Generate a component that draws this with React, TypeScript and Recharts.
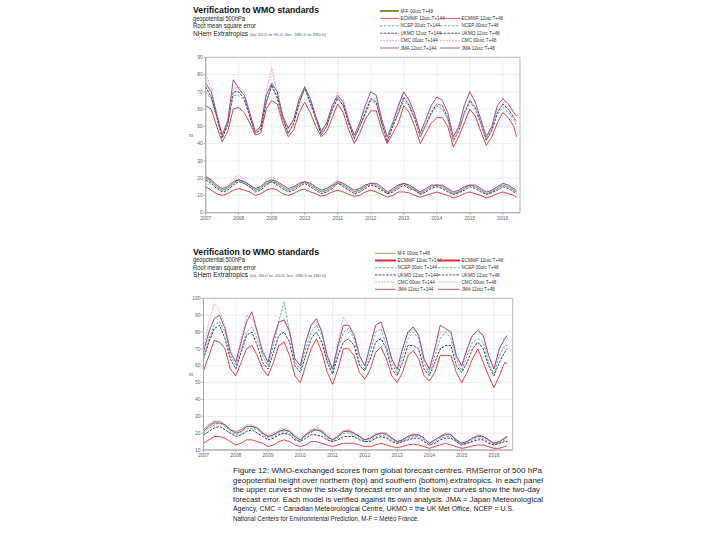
import React from "react";
import { LineChart, Line, XAxis, YAxis, CartesianGrid, ReferenceArea } from "recharts";

// monthly sample dates (every second month) shared by both panels
const dates = [
  "2007-01", "2007-03", "2007-05", "2007-07", "2007-09", "2007-11",
  "2008-01", "2008-03", "2008-05", "2008-07", "2008-09", "2008-11",
  "2009-01", "2009-03", "2009-05", "2009-07", "2009-09", "2009-11",
  "2010-01", "2010-03", "2010-05", "2010-07", "2010-09", "2010-11",
  "2011-01", "2011-03", "2011-05", "2011-07", "2011-09", "2011-11",
  "2012-01", "2012-03", "2012-05", "2012-07", "2012-09", "2012-11",
  "2013-01", "2013-03", "2013-05", "2013-07", "2013-09", "2013-11",
  "2014-01", "2014-03", "2014-05", "2014-07", "2014-09", "2014-11",
  "2015-01", "2015-03", "2015-05", "2015-07", "2015-09", "2015-11",
  "2016-01", "2016-03", "2016-05", "2016-06",
];

const yearTicks = [2007, 2008, 2009, 2010, 2011, 2012, 2013, 2014, 2015, 2016];
const nhTicks = [0, 10, 20, 30, 40, 50, 60, 70, 80, 90];
const shTicks = [10, 20, 30, 40, 50, 60, 70, 80, 90, 100];

// ---- NHem, T+144 (upper curves)
const nhEc144 = [
  62, 60, 50, 41, 47, 60, 61, 58, 52, 45, 46, 60, 65, 63, 52, 44, 48, 58,
  64, 58, 50, 44, 47, 55, 63, 58, 48, 40, 46, 54, 59, 59, 48, 40, 46, 52,
  62, 58, 50, 40, 46, 52, 55, 55, 50, 38, 44, 52, 60, 56, 47, 39, 44, 52,
  58, 55, 50, 44,
];
const nhNc144 = [
  70, 66, 55, 44, 51, 68, 68, 65, 56, 46, 49, 64, 73, 66, 54, 46, 51, 63,
  72, 63, 54, 46, 50, 60, 67, 62, 51, 43, 50, 57, 65, 63, 51, 42, 50, 57,
  65, 61, 54, 44, 50, 57, 62, 60, 54, 41, 47, 57, 64, 60, 51, 42, 47, 57,
  61, 58, 54, 50,
];
const nhUk144 = [
  73, 67, 56, 43, 51, 70, 70, 66, 56, 46, 48, 64, 74, 67, 55, 46, 52, 64,
  72, 64, 55, 45, 50, 60, 66, 62, 52, 43, 50, 58, 66, 64, 52, 41, 50, 58,
  67, 62, 55, 44, 51, 58, 63, 62, 55, 42, 48, 58, 65, 61, 52, 42, 48, 58,
  63, 60, 55, 53,
];
const nhCm144 = [
  80, 72, 58, 45, 54, 72, 73, 70, 58, 46, 50, 70, 84, 70, 56, 48, 54, 66,
  72, 66, 56, 47, 52, 62, 70, 66, 54, 44, 52, 60, 66, 66, 54, 42, 52, 60,
  70, 63, 56, 44, 52, 60, 63, 62, 56, 42, 49, 58, 66, 60, 52, 43, 49, 60,
  62, 60, 56, 52,
];
const nhJm144 = [
  75, 70, 57, 45, 53, 77, 72, 68, 58, 47, 50, 68, 75, 70, 56, 49, 54, 66,
  73, 66, 56, 47, 52, 62, 68, 64, 53, 45, 52, 62, 70, 68, 54, 44, 52, 62,
  70, 65, 57, 46, 54, 62, 67, 65, 58, 44, 50, 62, 70, 64, 54, 44, 50, 62,
  66, 63, 58, 56,
];
// ---- NHem, T+48 (lower curves)
const nhMf48 = [
  20, 18, 15, 13, 14, 17, 19, 18, 16, 13, 14, 17, 18, 17, 15, 13, 14, 16,
  18, 16, 14, 12, 13, 15, 17, 16, 14, 12, 13, 15, 17, 16, 14, 11, 13, 15,
  17, 15, 13, 11, 13, 15, 16, 15, 13, 11, 12, 14, 16, 15, 13, 11, 12, 14,
  16, 15, 13, 12,
];
const nhEc48 = [
  15, 13, 11, 10, 11, 13, 14, 13, 12, 10, 11, 13, 14, 13, 11, 10, 11, 13,
  13.5, 12, 11, 9.5, 10.5, 12, 13, 12, 10.5, 9.5, 10, 12, 13, 12, 10.5, 9, 10, 12,
  12, 11.5, 10, 9, 10, 11, 12, 11, 10, 8.5, 9.5, 11, 12, 11, 10, 8.5, 9.5, 11,
  12, 11, 10, 9,
];
const nhNc48 = [
  21, 18, 15, 13, 14, 17, 19, 17, 15, 13, 14, 17, 19, 17, 15, 13, 14, 16,
  18, 16, 14, 12, 13, 15, 18, 16, 14, 12, 13, 15, 17, 16, 14, 11.5, 13, 15,
  17, 15, 14, 11.5, 13, 15, 16, 15, 13, 11, 12.5, 14, 16, 15, 13, 11, 12.5, 14,
  16, 15, 13, 12,
];
const nhUk48 = [
  19, 17, 14, 12, 13, 16, 18, 17, 15, 12, 13, 16, 18, 16, 14, 12, 13, 15,
  17, 15, 13, 11, 12, 14, 17, 15, 13, 11, 12, 14, 16, 15, 13, 11, 12, 14,
  16, 14, 13, 10.5, 12, 14, 15, 14, 12, 10.5, 11.5, 13, 15, 14, 12, 10.5, 11.5, 13,
  15, 14, 12, 11,
];
const nhCm48 = [
  21, 19, 16, 14, 15, 20, 22, 19, 16, 14, 15, 19, 21, 18, 15, 13, 14, 17,
  18, 17, 15, 13, 14, 17, 19, 17, 15, 12, 14, 16, 17, 16, 14, 12, 13, 16,
  17, 16, 14, 12, 13, 15, 16, 15, 14, 11, 13, 15, 16, 15, 14, 11, 13, 15,
  16, 15, 14, 13,
];
const nhJm48 = [
  21, 19, 16, 14, 15, 18, 19, 18, 16, 14, 15, 18, 19, 18, 16, 14, 15, 17,
  18, 17, 15, 13, 14, 16, 18, 17, 15, 13, 14, 16, 17, 17, 15, 12, 14, 16,
  17, 16, 14, 12, 14, 16, 16, 16, 14, 12, 13, 15, 16, 16, 14, 12, 13, 15,
  17, 16, 14, 13,
];

// ---- SHem, T+144
const shEc144 = [
  57, 66, 75, 74, 70, 58, 54, 62, 70, 72, 66, 58, 54, 62, 72, 74, 66, 54,
  50, 60, 70, 76, 68, 56, 49, 58, 70, 70, 66, 56, 52, 58, 68, 71, 64, 54,
  50, 56, 66, 69, 64, 54, 51, 56, 66, 66, 66, 56, 50, 56, 64, 70, 62, 54,
  47, 54, 62, 61,
];
const shNc144 = [
  65, 76, 84, 86, 80, 66, 60, 70, 80, 83, 76, 66, 60, 72, 86, 98, 80, 62,
  58, 70, 80, 84, 78, 64, 56, 70, 80, 82, 76, 62, 58, 68, 80, 82, 72, 62,
  55, 66, 76, 80, 76, 62, 55, 66, 76, 80, 76, 64, 57, 66, 74, 76, 74, 62,
  55, 66, 72, 72,
];
const shUk144 = [
  64, 74, 82, 84, 76, 64, 58, 68, 78, 80, 72, 62, 58, 68, 78, 80, 74, 60,
  56, 66, 76, 80, 74, 62, 55, 66, 74, 76, 72, 60, 57, 64, 74, 76, 70, 58,
  54, 62, 72, 72, 70, 58, 54, 62, 70, 72, 72, 60, 56, 62, 70, 74, 70, 60,
  54, 62, 68, 70,
];
const shCm144 = [
  70, 86, 97, 92, 84, 70, 62, 76, 90, 88, 80, 70, 62, 76, 84, 88, 82, 64,
  60, 74, 84, 86, 80, 66, 58, 74, 89, 84, 80, 66, 60, 72, 84, 86, 76, 64,
  57, 70, 80, 82, 78, 64, 57, 70, 80, 80, 80, 66, 59, 70, 78, 80, 78, 66,
  59, 70, 76, 78,
];
const shJm144 = [
  68, 80, 88, 90, 82, 68, 62, 74, 86, 92, 80, 68, 62, 76, 86, 87, 80, 64,
  60, 74, 84, 88, 80, 66, 58, 72, 84, 84, 78, 66, 60, 72, 84, 86, 76, 64,
  58, 70, 80, 83, 78, 64, 58, 70, 84, 82, 80, 66, 60, 70, 78, 81, 78, 66,
  58, 70, 76, 78,
];
// ---- SHem, T+48
const shMf48 = [
  22, 25, 27, 27, 25, 22, 21, 22, 24, 24, 23, 20, 18, 19, 21, 22, 21, 18,
  16, 19, 22, 22, 21, 18, 16, 18, 21, 22, 20, 18, 16, 17, 19, 20, 19, 17,
  15, 16, 18, 19, 19, 17, 14, 16, 18, 20, 19, 16, 14, 15, 17, 19, 18, 16,
  14, 15, 17, 18,
];
const shEc48 = [
  14, 16, 18, 18, 17, 15, 13, 14, 16, 16, 15, 14, 12, 13, 15, 16, 15, 13,
  12, 13, 15, 15, 14, 13, 12, 13, 14, 14, 14, 13, 12, 12, 13, 14, 13, 12,
  11.5, 12, 13, 13.5, 13, 12, 11, 12, 13, 14, 13, 12, 11, 11.5, 12.5, 13, 13, 12,
  11, 11, 12, 12.5,
];
const shNc48 = [
  20, 23, 25, 26, 24, 21, 19, 20, 23, 23, 22, 19, 17, 18, 20, 21, 20, 17,
  15, 18, 20, 24, 20, 17, 15, 17, 20, 20, 19, 17, 15, 16, 18, 19, 18, 16,
  14, 15, 17, 18, 18, 16, 13, 15, 17, 18, 18, 15, 13, 14, 16, 17, 17, 15,
  13, 14, 16, 16,
];
const shUk48 = [
  19, 21, 23, 24, 22, 20, 18, 19, 21, 22, 20, 18, 16, 17, 19, 20, 19, 16,
  15, 17, 19, 19, 18, 16, 15, 16, 18, 18, 18, 16, 15, 15, 17, 18, 17, 15,
  14, 15, 16, 17, 17, 15, 13, 14, 16, 17, 17, 15, 13, 14, 15, 16, 16, 14,
  13, 14, 15, 15,
];
const shCm48 = [
  22, 25, 26, 27, 25, 22, 21, 22, 25, 25, 23, 21, 19, 20, 22, 23, 22, 19,
  17, 19, 22, 23, 22, 19, 17, 19, 22, 21, 20, 18, 16, 17, 20, 20, 19, 17,
  15, 16, 18, 20, 19, 17, 14, 16, 18, 19, 20, 16, 14, 15, 17, 19, 18, 16,
  14, 15, 17, 18,
];
const shJm48 = [
  21, 24, 26, 26, 25, 22, 20, 21, 24, 24, 23, 20, 18, 19, 21, 22, 21, 18,
  16, 19, 21, 22, 21, 18, 16, 18, 21, 21, 20, 18, 16, 17, 19, 20, 20, 17,
  15, 16, 18, 19, 19, 17, 14, 16, 18, 19, 19, 16, 14, 15, 17, 18, 18, 16,
  14, 15, 17, 18,
];

const captionLines = [
  "Figure 12: WMO-exchanged scores from global forecast centres. RMSerror of 500 hPa",
  "geopotential height over northern (top) and southern (bottom) extratropics. In each panel",
  "the upper curves show the six-day forecast error and the lower curves show the two-day",
  "forecast error. Each model is verified against its own analysis. JMA = Japan Meteorological",
  "Agency, CMC = Canadian Meteorological Centre, UKMO = the UK Met Office, NCEP = U.S.",
  "National Centers for Environmental Prediction, M-F = Météo France.",
];

const FONT = "'Liberation Sans', Arial, Helvetica, sans-serif";

const SERIES = [
  { key: "mf48", name: "M-F 00utc T+48", color: "#8a8a48" },
  { key: "ec144", name: "ECMWF 12utc T+144", color: "#d6303b" },
  { key: "ec48", name: "ECMWF 12utc T+48", color: "#d6303b" },
  { key: "nc144", name: "NCEP 00utc T+144", color: "#45a89b", dash: "2.5 1.5" },
  { key: "nc48", name: "NCEP 00utc T+48", color: "#45a89b", dash: "2.5 1.5" },
  { key: "uk144", name: "UKMO 12utc T+144", color: "#222a48", dash: "2.5 1.2" },
  { key: "uk48", name: "UKMO 12utc T+48", color: "#222a48", dash: "2.5 1.2" },
  { key: "cm144", name: "CMC 00utc T+144", color: "#e6a0c4", dash: "2 1" },
  { key: "cm48", name: "CMC 00utc T+48", color: "#e6a0c4", dash: "2 1" },
  { key: "jm144", name: "JMA 12utc T+144", color: "#8c3e7f" },
  { key: "jm48", name: "JMA 12utc T+48", color: "#8c3e7f" },
];

const toYear = (d: string) => +d.slice(0, 4) + (+d.slice(5, 7) - 1) / 12;

const nhRows = dates.map((d, i) => ({
  t: toYear(d),
  mf48: nhMf48[i], ec144: nhEc144[i], ec48: nhEc48[i], nc144: nhNc144[i], nc48: nhNc48[i],
  uk144: nhUk144[i], uk48: nhUk48[i], cm144: nhCm144[i], cm48: nhCm48[i], jm144: nhJm144[i], jm48: nhJm48[i],
}));
const shRows = dates.map((d, i) => ({
  t: toYear(d),
  mf48: shMf48[i], ec144: shEc144[i], ec48: shEc48[i], nc144: shNc144[i], nc48: shNc48[i],
  uk144: shUk144[i], uk48: shUk48[i], cm144: shCm144[i], cm48: shCm48[i], jm144: shJm144[i], jm48: shJm48[i],
}));

function Panel({ rows, left, top, width, height, mt, yw, xMax, yDomain, yTicks }: any) {
  const tick = { fontSize: 5, fill: "#666", fontFamily: FONT };
  return (
    <div style={{ position: "absolute", left, top }}>
      <LineChart width={width} height={height} data={rows}
        margin={{ top: mt, right: 10, bottom: 0, left: 0 }}>
        <CartesianGrid stroke="#e6e6e6" strokeWidth={0.7} />
        <XAxis type="number" dataKey="t" domain={[2007, xMax]} ticks={yearTicks} interval={0}
          allowDataOverflow tick={tick} tickSize={2} tickMargin={1.5} height={14}
          axisLine={{ stroke: "#aaa" }} tickLine={{ stroke: "#aaa" }} />
        <YAxis domain={yDomain} ticks={yTicks} interval={0} allowDataOverflow width={yw}
          tick={tick} tickSize={2} tickMargin={1}
          axisLine={{ stroke: "#aaa" }} tickLine={{ stroke: "#aaa" }} />
        <ReferenceArea x1={2007} x2={xMax} y1={yDomain[0]} y2={yDomain[1]}
          fill="none" stroke="#b4b4b4" strokeWidth={0.8} />
        {SERIES.map((s) => (
          <Line key={s.key} type="linear" dataKey={s.key} stroke={s.color}
            strokeDasharray={s.dash} strokeWidth={0.9} dot={false}
            isAnimationActive={false} />
        ))}
      </LineChart>
    </div>
  );
}

function Txt({ x, y, size, len, bold, fill = "#222", children }: any) {
  return (
    <text x={x} y={y} fontSize={size} fontWeight={bold ? "bold" : "normal"} fill={fill}
      fontFamily={FONT} textLength={len} lengthAdjust={len ? "spacingAndGlyphs" : undefined}>
      {children}
    </text>
  );
}

function Legend({ y0, dy, c1, c2, thick }: any) {
  const rows: any[][] = [[SERIES[0]]];
  for (let i = 1; i < SERIES.length; i += 2) rows.push([SERIES[i], SERIES[i + 1]]);
  return (
    <g>
      {rows.map((r, ri) =>
        r.map((s, ci) => {
          const c = ci === 0 ? c1 : c2;
          const y = y0 + ri * dy;
          return (
            <g key={s.key}>
              <line x1={c[0]} x2={c[1]} y1={y} y2={y} stroke={s.color}
                strokeWidth={thick.includes(s.key) ? 2 : 0.8} strokeDasharray={s.dash} />
              <Txt x={c[1] + 1.5} y={y + 1.6} size={4.6} fill="#333">{s.name}</Txt>
            </g>
          );
        })
      )}
    </g>
  );
}

function Header({ y, region, range }: any) {
  return (
    <g>
      <Txt x={193} y={y} size={9.5} len={126} bold fill="#111">Verification to WMO standards</Txt>
      <Txt x={193} y={y + 7.5} size={6.5} len={52}>geopotential 500hPa</Txt>
      <Txt x={193} y={y + 15} size={6.5} len={63}>Root mean square error</Txt>
      <Txt x={193} y={y + 22.5} size={6.5} len={55}>{region}</Txt>
      <Txt x={250} y={y + 22.3} size={4} len={76} fill="#555">{range}</Txt>
    </g>
  );
}

export default function App() {
  return (
    <div style={{ position: "absolute", left: 0, top: 0, width: 720, height: 540,
      background: "#fff", overflow: "hidden", fontFamily: FONT }}>
      <Panel rows={nhRows} left={170} top={50} width={360} height={176.7} mt={7.3}
        yw={35.7} xMax={2016.52} yDomain={[0, 90]} yTicks={nhTicks} />
      <Panel rows={shRows} left={168} top={290} width={354.7} height={174} mt={8.3}
        yw={35.5} xMax={2016.58} yDomain={[10, 100]} yTicks={shTicks} />
      <svg width={720} height={540}
        style={{ position: "absolute", left: 0, top: 0, pointerEvents: "none" }}>
        <Header y={13.3} region="NHem Extratropics"
          range="(lat 20.0 to 90.0, lon -180.0 to 180.0)" />
        <Legend y0={11} dy={7.4} c1={[380, 399]} c2={[440, 460]} thick={["mf48"]} />
        <Txt x={189} y={137} size={5} fill="#555">m</Txt>

        <Header y={254.5} region="SHem Extratropics"
          range="(lat -90.0 to -20.0, lon -180.0 to 180.0)" />
        <Legend y0={253.3} dy={7.2} c1={[375, 396]} c2={[438, 460]} thick={["ec144", "ec48"]} />
        <Txt x={189} y={376} size={5} fill="#555">m</Txt>

        {captionLines.map((l, i) => (
          <Txt key={i} x={233} y={473 + i * 9.6} size={7.8} fill="#1a1a1a"
            len={[309, 310, 307, 310, 281, 186][i]}>{l}</Txt>
        ))}
      </svg>
    </div>
  );
}
